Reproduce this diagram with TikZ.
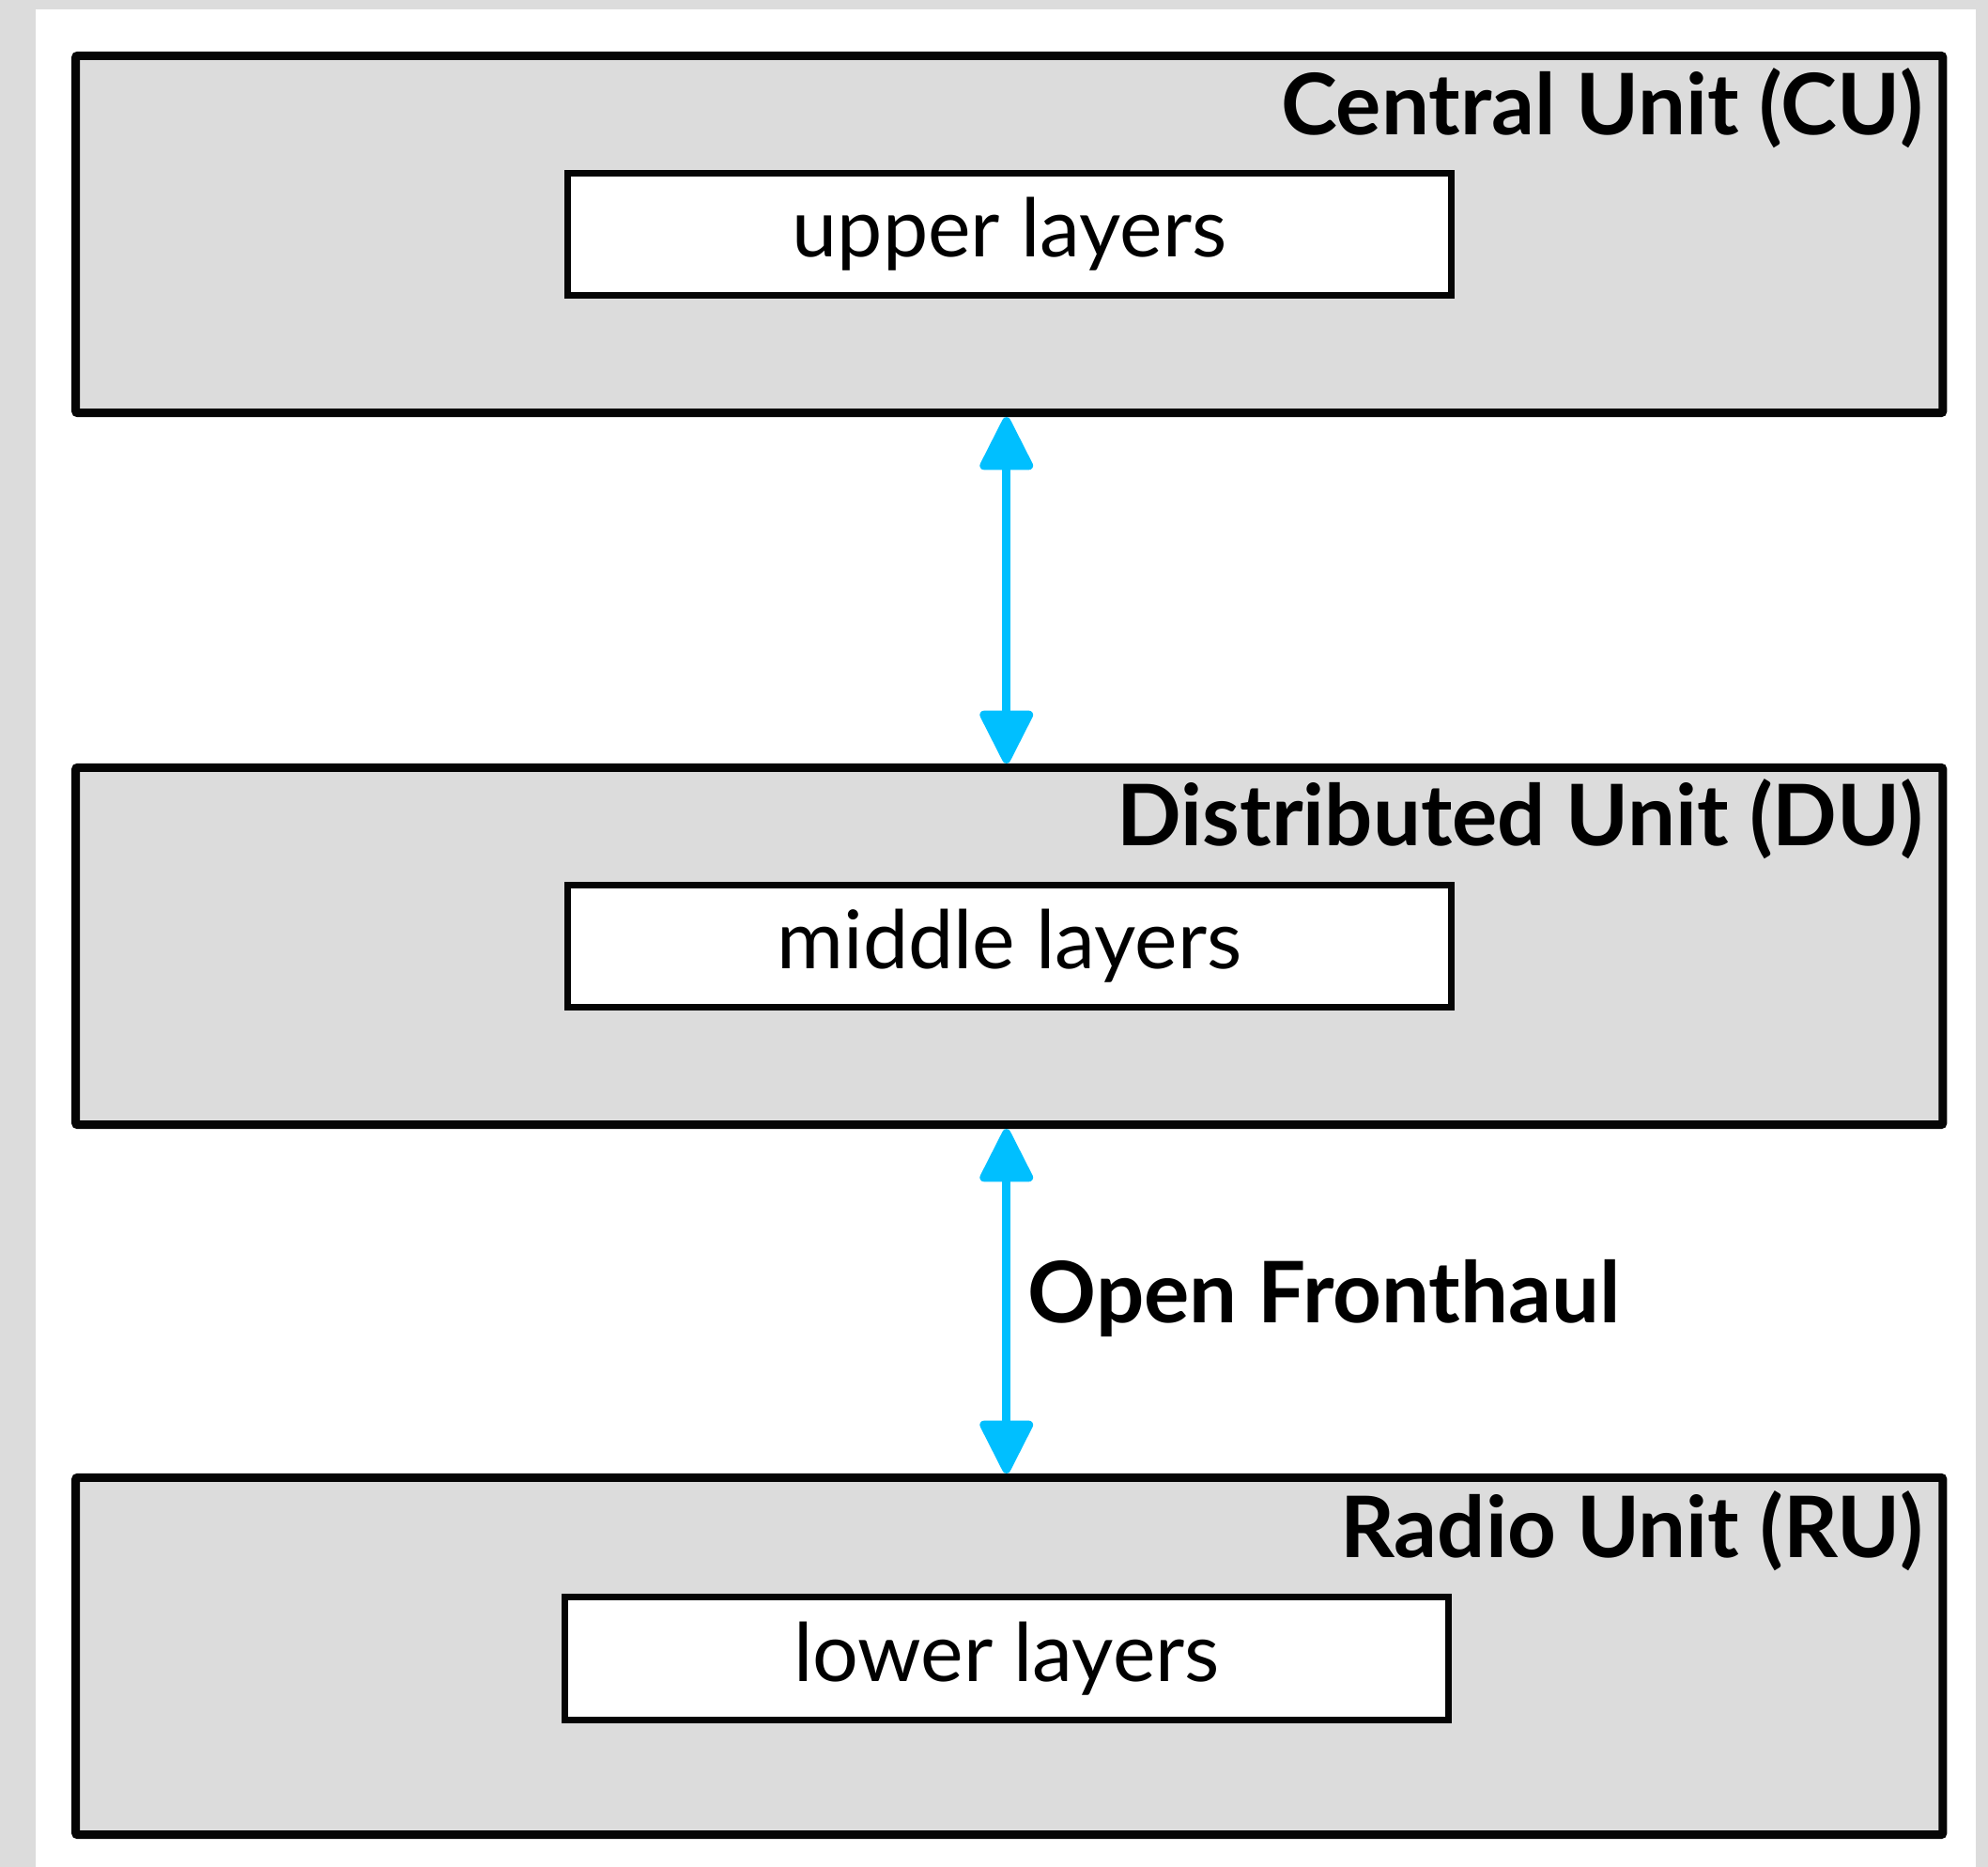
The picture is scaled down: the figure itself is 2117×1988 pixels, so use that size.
\documentclass[tikz,border=0pt]{standalone}
\usepackage{fontspec}
\setmainfont{Lato}
\usetikzlibrary{arrows.meta}
\definecolor{bggray}{RGB}{220,220,220}
\definecolor{linecol}{RGB}{5,5,5}
\definecolor{arrcyan}{RGB}{0,191,255}
\tikzset{
  unitbox/.style={draw=linecol, fill=bggray, line width=0.09cm, minimum width=19.87cm, minimum height=3.80cm, inner sep=0pt, rounded corners=0.02cm},
  layerbox/.style={draw=linecol, fill=white, line width=0.07cm, minimum width=9.40cm, minimum height=1.30cm, inner sep=0pt, font=\fontsize{24.5}{28}\selectfont},
  unittitle/.style={anchor=base east, inner sep=0pt, font=\fontsize{25.7}{30}\selectfont\bfseries},
  link/.style={draw=arrcyan, line width=0.09cm, {Triangle[width=0.60cm,length=0.62cm,round]}-{Triangle[width=0.60cm,length=0.62cm,round]}}
}
\begin{document}
\begin{tikzpicture}[x=0.01cm,y=-0.01cm]
\useasboundingbox (0,0) rectangle (2117,1988);
\fill[bggray] (0,0) rectangle (2117,1988);
\fill[white] (38,10) rectangle (2104,1988);
\node[unitbox] (cu) at (1074.75,249.5) {};
\node[unitbox] (du) at (1074.75,1007.5) {};
\node[unitbox] (ru) at (1074.75,1763.5) {};
\node[layerbox] (upper) at (1075,249.5) {upper layers};
\node[layerbox] (middle) at (1075,1007.5) {middle layers};
\node[layerbox] (lower) at (1072,1766) {lower layers};
\node[unittitle] (cut) at (2049,144) {Central Unit (CU)};
\node[unittitle] (dut) at (2049,900) {Distributed Unit (DU)};
\node[unittitle] (rut) at (2049,1658) {Radio Unit (RU)};
\draw[link] ([xshift=-0.03cm]cu.south) -- ([xshift=-0.03cm]du.north);
\draw[link] ([xshift=-0.03cm]du.south) -- ([xshift=-0.03cm]ru.north);
\node[unittitle, anchor=base west] (of) at (1094,1408) {Open Fronthaul};
\end{tikzpicture}
\end{document}
